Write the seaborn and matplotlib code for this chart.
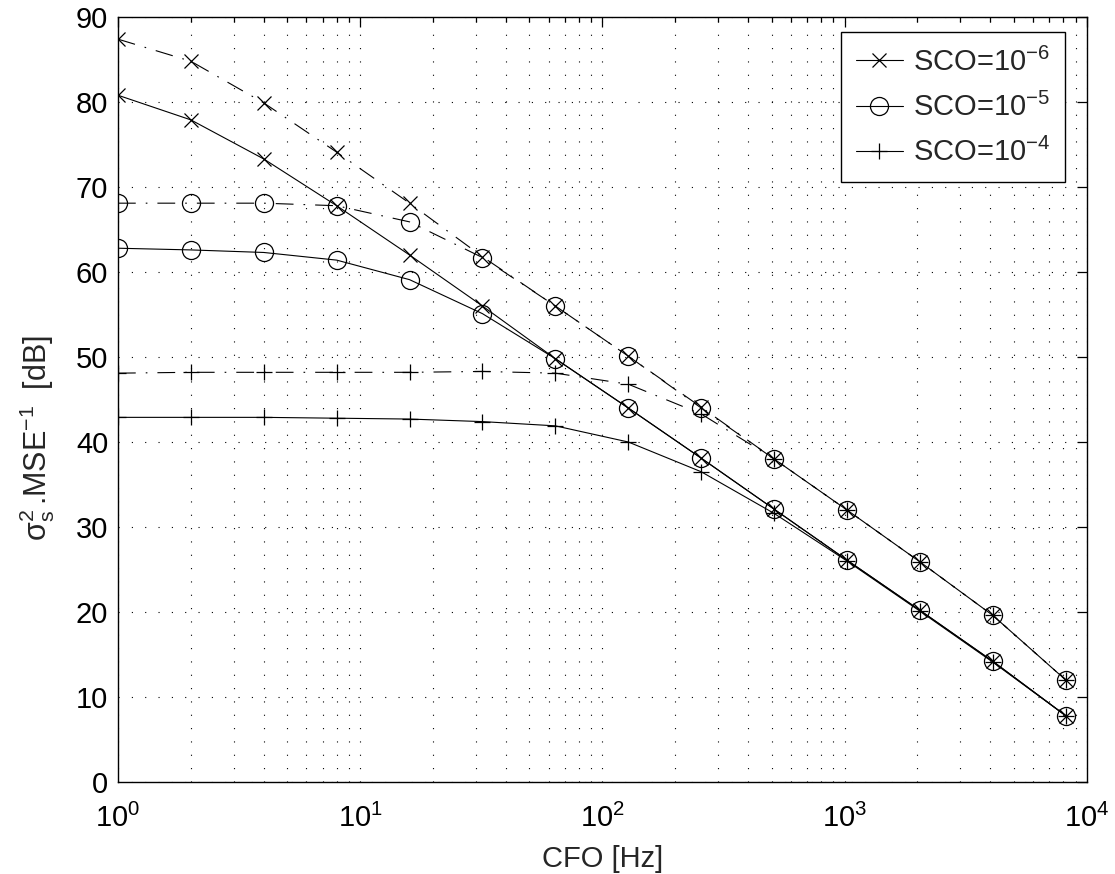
import matplotlib
matplotlib.use("Agg")
import matplotlib.pyplot as plt
import seaborn as sns
from matplotlib.ticker import LogLocator, NullFormatter

# ── Data ───────────────────────────────────────────────────────────────────────

cfo_hz = [1, 2, 4, 8, 16, 32, 64, 128, 256, 512, 1024, 2048, 4096, 8192]

sco_labels = [r"SCO=10$^{-6}$", r"SCO=10$^{-5}$", r"SCO=10$^{-4}$"]
sco_markers = ["x", "o", "+"]

# solid curves
sco6_solid = [80.8, 77.9, 73.3, 67.8, 62.0, 56.0, 49.8, 44.0, 38.1, 32.1, 26.1, 20.2, 14.2, 7.8]
sco5_solid = [62.8, 62.6, 62.3, 61.4, 59.1, 55.1, 49.8, 44.0, 38.1, 32.1, 26.1, 20.2, 14.2, 7.8]
sco4_solid = [42.9, 42.9, 42.9, 42.8, 42.7, 42.4, 41.9, 40.0, 36.5, 31.6, 26.0, 20.1, 14.1, 7.8]

# dash-dot curves
sco6_dashdot = [87.4, 84.8, 79.9, 74.1, 68.1, 61.8, 56.0, 50.1, 44.1, 38.0, 32.0, 25.9, 19.6, 12.0]
sco5_dashdot = [68.1, 68.1, 68.1, 67.8, 65.9, 61.7, 56.0, 50.1, 44.0, 38.0, 32.0, 25.9, 19.6, 12.0]
sco4_dashdot = [48.1, 48.2, 48.2, 48.2, 48.2, 48.3, 48.1, 46.8, 43.3, 38.0, 32.0, 25.9, 19.6, 12.0]

y_ticks = [0, 10, 20, 30, 40, 50, 60, 70, 80, 90]

# ── Style ──────────────────────────────────────────────────────────────────────

sns.set_style("white")
plt.rcParams["font.family"] = ["Liberation Sans", "DejaVu Sans"]
plt.rcParams["mathtext.fontset"] = "custom"
plt.rcParams["mathtext.rm"] = "Liberation Sans"
plt.rcParams["mathtext.it"] = "Liberation Sans"
plt.rcParams["mathtext.default"] = "regular"

FS = 21
DASHDOT = (0, (16, 9, 1.5, 9))
MARKER_SIZE = {"x": 9.5, "o": 13, "+": 11}


def draw_curve(ax, y, marker, style, label=None):
    face = "none" if marker == "o" else "k"
    sns.lineplot(
        x=cfo_hz, y=y, ax=ax, color="k", linestyle=style, linewidth=0.8,
        marker=marker, markersize=MARKER_SIZE[marker], markerfacecolor=face,
        markeredgecolor="k", markeredgewidth=0.9, label=label,
        legend=False,
    )


fig = plt.figure(figsize=(11.15, 8.74), dpi=100)
ax = fig.add_axes([0.1058, 0.1053, 0.8688, 0.8752])

solid = [sco6_solid, sco5_solid, sco4_solid]
dashdot = [sco6_dashdot, sco5_dashdot, sco4_dashdot]

for y, m in zip(dashdot, sco_markers):
    draw_curve(ax, y, m, DASHDOT)
for y, m, lab in zip(solid, sco_markers, sco_labels):
    draw_curve(ax, y, m, "-", lab)

ax.set_xscale("log")
ax.set_xlim(1, 1e4)
ax.set_ylim(0, 90)
ax.set_yticks(y_ticks)
ax.xaxis.set_major_locator(LogLocator(base=10, numticks=10))
ax.xaxis.set_minor_locator(LogLocator(base=10, subs=range(2, 10), numticks=20))
ax.xaxis.set_minor_formatter(NullFormatter())

grid_kw = dict(color="k", linestyle=(0, (1, 11)), linewidth=0.8)
ax.grid(True, which="major", axis="both", **grid_kw)
ax.grid(True, which="minor", axis="x", **grid_kw)

ax.tick_params(which="both", direction="in", top=True, right=True,
               colors="k", labelsize=FS, width=0.9)
ax.tick_params(which="major", length=7)
ax.tick_params(which="minor", length=3.5)
ax.tick_params(axis="x", which="major", pad=16)
ax.tick_params(axis="y", which="major", pad=7)
for sp in ax.spines.values():
    sp.set_color("k")
    sp.set_linewidth(1.0)

ax.set_xlabel("CFO [Hz]", fontsize=FS, labelpad=8)
ax.set_ylabel(r"$\sigma_s^2\,$.MSE$^{-1}\;$ [dB]", fontsize=22)
ax.yaxis.set_label_coords(-0.063, 0.45)

handles, labels = ax.get_legend_handles_labels()
leg = ax.legend(handles, labels, loc="upper right",
                bbox_to_anchor=(0.978, 0.98), fontsize=FS,
                frameon=True, fancybox=False, handlelength=1.6,
                borderpad=0.52, labelspacing=0.55, handletextpad=0.35,
                borderaxespad=0.0)
leg.get_frame().set_edgecolor("k")
leg.get_frame().set_linewidth(1.0)
leg.get_frame().set_alpha(1)

fig.savefig("out.png", dpi=100)
